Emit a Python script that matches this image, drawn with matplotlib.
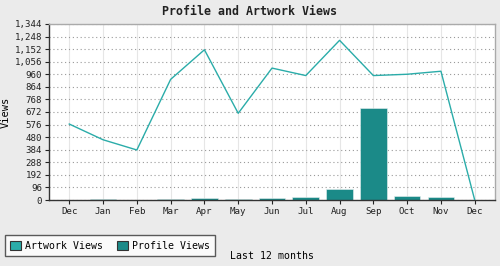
import matplotlib
matplotlib.use("Agg")
import matplotlib.pyplot as plt
from matplotlib.patches import Patch
from matplotlib.ticker import FuncFormatter

months = ["Dec", "Jan", "Feb", "Mar", "Apr", "May", "Jun", "Jul", "Aug", "Sep", "Oct", "Nov", "Dec"]
artwork_views = [580, 460, 382, 921, 1147, 662, 1007, 950, 1219, 950, 960, 983, 0]
profile_views = [1, 10, 1, 10, 18, 10, 18, 25, 81, 700, 33, 25, 0]
yticks = list(range(0, 1345, 96))

line_col = "#2aaca9"
bar_col = "#1b8a88"
bg = "#ebebeb"
mono = "DejaVu Sans Mono"

fig = plt.figure(figsize=(5, 2.66), dpi=100, facecolor=bg)
ax = fig.add_axes([0.098, 0.248, 0.892, 0.662])
ax.set_facecolor("white")

x = list(range(len(months)))
ax.bar(x, profile_views, width=0.79, color=bar_col, edgecolor="#e8f0f0", linewidth=0.4, zorder=2)
ax.plot(x, artwork_views, color=line_col, linewidth=1.0, zorder=3)

ax.set_xlim(-0.6, 12.6)
ax.set_ylim(0, 1344)
ax.set_yticks(yticks)
ax.yaxis.set_major_formatter(FuncFormatter(lambda v, p: "{:,}".format(int(v))))
ax.set_xticks(x)
ax.set_xticklabels(months)
ax.tick_params(labelsize=6.6, length=3, width=0.8, pad=2, colors="#222222")
for lab in ax.get_xticklabels() + ax.get_yticklabels():
    lab.set_family(mono)

ax.yaxis.grid(True, linestyle=(0, (1, 2.5)), color="#999999", linewidth=0.8, zorder=1)
ax.xaxis.grid(True, linestyle="-", color="#e6e6e6", linewidth=0.8, zorder=1)
ax.set_axisbelow(True)

for s in ["left", "bottom"]:
    ax.spines[s].set_color("#333333")
    ax.spines[s].set_linewidth(1.0)
for s in ["top", "right"]:
    ax.spines[s].set_color("#aaaaaa")
    ax.spines[s].set_linewidth(1.0)

ax.set_ylabel("Views", family=mono, fontsize=7.5, labelpad=3)
ax.set_xlabel("Last 12 months", family=mono, fontsize=7.1, labelpad=25)

fig.text(0.5, 0.955, "Profile and Artwork Views", ha="center", va="center",
         family=mono, fontsize=8.4, fontweight="bold", color="#222222")

handles = [Patch(facecolor=line_col, edgecolor="#333333", linewidth=0.8, label="Artwork Views"),
           Patch(facecolor=bar_col, edgecolor="#333333", linewidth=0.8, label="Profile Views")]
leg = fig.legend(handles=handles, loc="lower left", bbox_to_anchor=(0.01, 0.037), ncol=2,
                 prop={"family": mono, "size": 7.1}, frameon=True, fancybox=False,
                 handlelength=1.1, handleheight=1.1, handletextpad=0.4, columnspacing=1.4,
                 borderpad=0.55, borderaxespad=0)
leg.get_frame().set_edgecolor("#333333")
leg.get_frame().set_linewidth(1.0)

fig.savefig("out.png", dpi=100, facecolor=bg)
